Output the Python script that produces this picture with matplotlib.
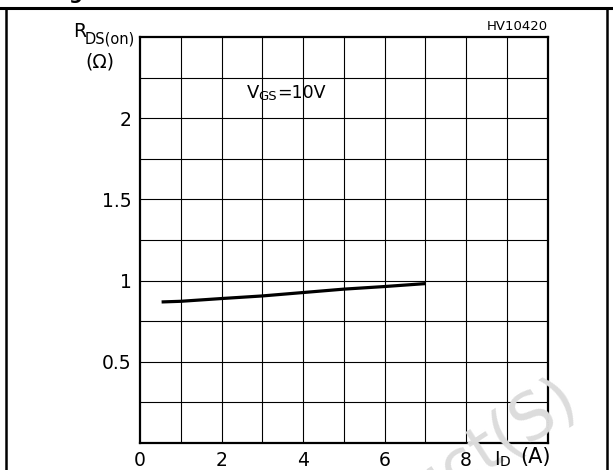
import matplotlib
matplotlib.use("Agg")
import matplotlib.pyplot as plt
from matplotlib.lines import Line2D

# values
id_amps = [0.53, 1.0, 2.0, 3.0, 4.0, 5.0, 6.0, 7.0]
rds_on = [0.868, 0.872, 0.889, 0.905, 0.926, 0.947, 0.963, 0.981]

x_ticks = [0, 2, 4, 6, 8]
x_tick_labels = ["0", "2", "4", "6", "8"]
y_ticks = [0.5, 1.0, 1.5, 2.0]
y_tick_labels = ["0.5", "1", "1.5", "2"]

W, H = 613, 470
plt.rcParams["font.family"] = ["DejaVu Sans"]

fig = plt.figure(figsize=(W / 100, H / 100), dpi=100)
ax = fig.add_axes([140 / W, 1 - 442.7 / H, 407.5 / W, 405.4 / H])

ax.set_xlim(0, 10)
ax.set_ylim(0, 2.5)

# grid every 1 A and every 0.25 ohm
for gx in range(1, 10):
    ax.axvline(gx, color="black", lw=0.8, zorder=1)
for i in range(1, 10):
    ax.axhline(i * 0.25, color="black", lw=0.8, zorder=1)

ax.plot(id_amps, rds_on, color="black", lw=2.3, solid_capstyle="butt", zorder=3)

for sp in ax.spines.values():
    sp.set_linewidth(1.6)

ax.set_xticks(x_ticks)
ax.set_xticklabels(x_tick_labels, fontsize=13.5)
ax.set_yticks(y_ticks)
ax.set_yticklabels(y_tick_labels, fontsize=13.5)
ax.tick_params(length=0, pad=6)


def txt(x, y, s, size, **kw):
    # position given in picture pixels from the top-left corner
    fig.text(x / W, 1 - y / H, s, fontsize=size, **kw)


# axis labels with full-size-ish subscripts
txt(73, 37, "R", 13.5, ha="left", va="baseline")
txt(85, 43, "DS(on)", 10.5, ha="left", va="baseline")
txt(100, 62, "(Ω)", 13.5, ha="center", va="center")

txt(494, 465, "I", 13.5, ha="left", va="baseline")
txt(500, 466, "D", 10, ha="left", va="baseline")
txt(535, 457, "(A)", 15, ha="center", va="center")

txt(247, 98, "V", 13, ha="left", va="baseline")
txt(258.5, 100.5, "GS", 9.5, ha="left", va="baseline")
txt(277, 98, "=10V", 12.5, ha="left", va="baseline")

txt(548, 26, "HV10420", 9.5, ha="right", va="center")

# bit of the caption above, cut off by the crop
txt(68, -1, "g", 14, ha="left", va="baseline", fontweight="bold")

# page frame lines
fig.add_artist(Line2D([0, 1], [1 - 7.5 / H, 1 - 7.5 / H], color="black", lw=2.2))
fig.add_artist(Line2D([6 / W, 6 / W], [0, 1 - 7.5 / H], color="black", lw=1.8))
fig.add_artist(Line2D([607 / W, 607 / W], [0, 1 - 7.5 / H], color="black", lw=1.8))

# faint watermark, mostly outside the crop
fig.text(582 / W, 1 - 410 / H, "Obsolete Product(S)", fontsize=46, color="#dcdcdc",
         rotation=33, rotation_mode="anchor", ha="right", va="baseline", zorder=0)

fig.savefig("out.png", dpi=100)
